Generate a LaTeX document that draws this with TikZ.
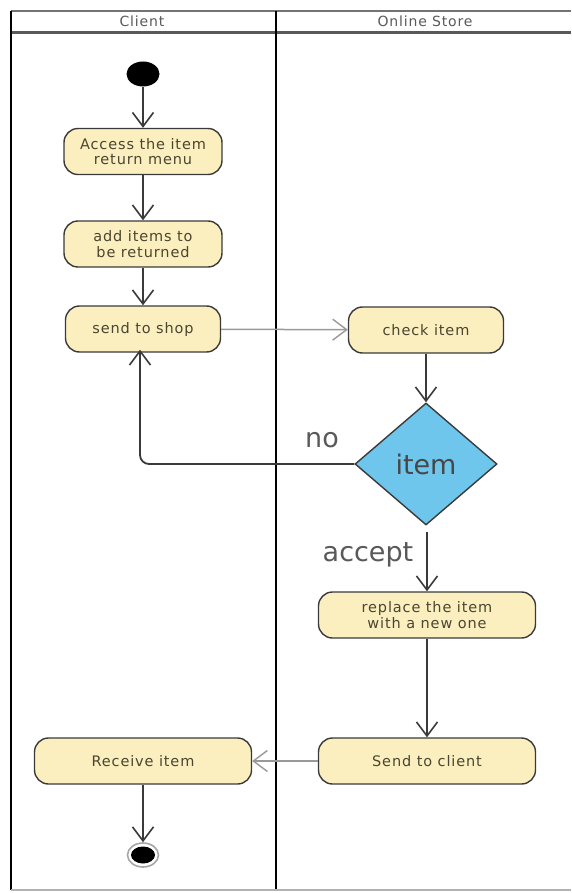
\documentclass[tikz,border=0pt]{standalone}
\usepackage{fontspec}
\setmainfont{DejaVu Sans}
\newfontfamily\actfont[LetterSpace=6]{DejaVu Sans}
\newfontfamily\dejavu{DejaVu Sans}
\usetikzlibrary{arrows.meta,shapes.geometric}
\definecolor{boxfill}{HTML}{FBEFC0}
\definecolor{diafill}{HTML}{6EC6EC}
\definecolor{edge}{HTML}{3A3A3A}
\definecolor{txt}{HTML}{4A4530}
\begin{document}
\begin{tikzpicture}[x=1pt,y=-1pt,
  act/.style={draw=edge,line width=1.4pt,fill=boxfill,rounded corners=14pt,minimum height=46pt,align=center,font=\actfont\fontsize{14.5}{15.5}\selectfont,text=txt},
  flow/.style={draw=edge,line width=1.8pt,-{Straight Barb[length=14pt,width=21pt,line width=1.6pt]}},
  lite/.style={draw=black!40,line width=1.5pt,-{Straight Barb[length=14pt,width=21pt,line width=1.4pt]}},
  lbl/.style={font=\dejavu\fontsize{27}{30}\selectfont,text=black!65}]
\useasboundingbox (0,0) rectangle (571,893);
% swimlanes
\draw[black!55,line width=2.6pt] (11,11) -- (571,11);
\draw[black!65,line width=2.6pt] (11,32.5) -- (571,32.5);
\draw[line width=2.4pt] (11,11) -- (11,890);
\draw[line width=2.8pt] (276,11) -- (276,890);
\draw[black!30,line width=2pt] (11,890) -- (571,890);
\node[font=\actfont\fontsize{14}{15}\selectfont,text=black!65] (hc) at (142,21.5) {Client};
\node[font=\actfont\fontsize{14}{15}\selectfont,text=black!65] (hs) at (425,21.5) {Online Store};
% nodes
\node[ellipse,fill=black,minimum width=33pt,minimum height=25pt,inner sep=0pt] (start) at (143,74) {};
\node[act,minimum width=158pt] (access) at (143,151.5) {Access the item\\return menu};
\node[act,minimum width=158pt] (add) at (143,244) {add items to\\be returned};
\node[act,minimum width=155pt] (send) at (143,329) {send to shop};
\node[act,minimum width=155pt] (check) at (426,330) {check item};
\node[diamond,draw=edge,line width=1.4pt,fill=diafill,minimum width=142pt,minimum height=122pt,inner sep=0pt,font=\dejavu\fontsize{27}{30}\selectfont,text=black!72] (dec) at (426,464) {item};
\node[act,minimum width=217pt] (replace) at (427,615) {replace the item\\with a new one};
\node[act,minimum width=217pt] (sendc) at (427,761) {Send to client};
\node[act,minimum width=217pt] (recv) at (143,761) {Receive item};
\node[ellipse,draw=black!35,line width=1.6pt,fill=white,minimum width=31pt,minimum height=24pt,inner sep=0pt] (endo) at (143,855) {};
\node[ellipse,fill=black,minimum width=24pt,minimum height=17pt,inner sep=0pt] (endi) at (143,855) {};
\coordinate (acc) at (427,532);
\coordinate (corner) at (140,464);
% connectors
\draw[flow] (start) -- (access);
\draw[flow] (access) -- (add);
\draw[flow] (add) -- (send);
\draw[lite] (send) -- (check);
\draw[flow] (check) -- (dec);
\draw[flow,rounded corners=9pt] (dec.west) -- (corner) -- ([yshift=3pt]send.south -| corner);
\draw[flow] (acc) -- (replace);
\draw[flow] (replace) -- (sendc);
\draw[lite] (sendc) -- (recv);
\draw[flow] (recv) -- (endo);
% labels
\node[lbl] (no) at (322,440) {no};
\node[lbl] (accept) at (368,555) {accept};
\end{tikzpicture}
\end{document}
